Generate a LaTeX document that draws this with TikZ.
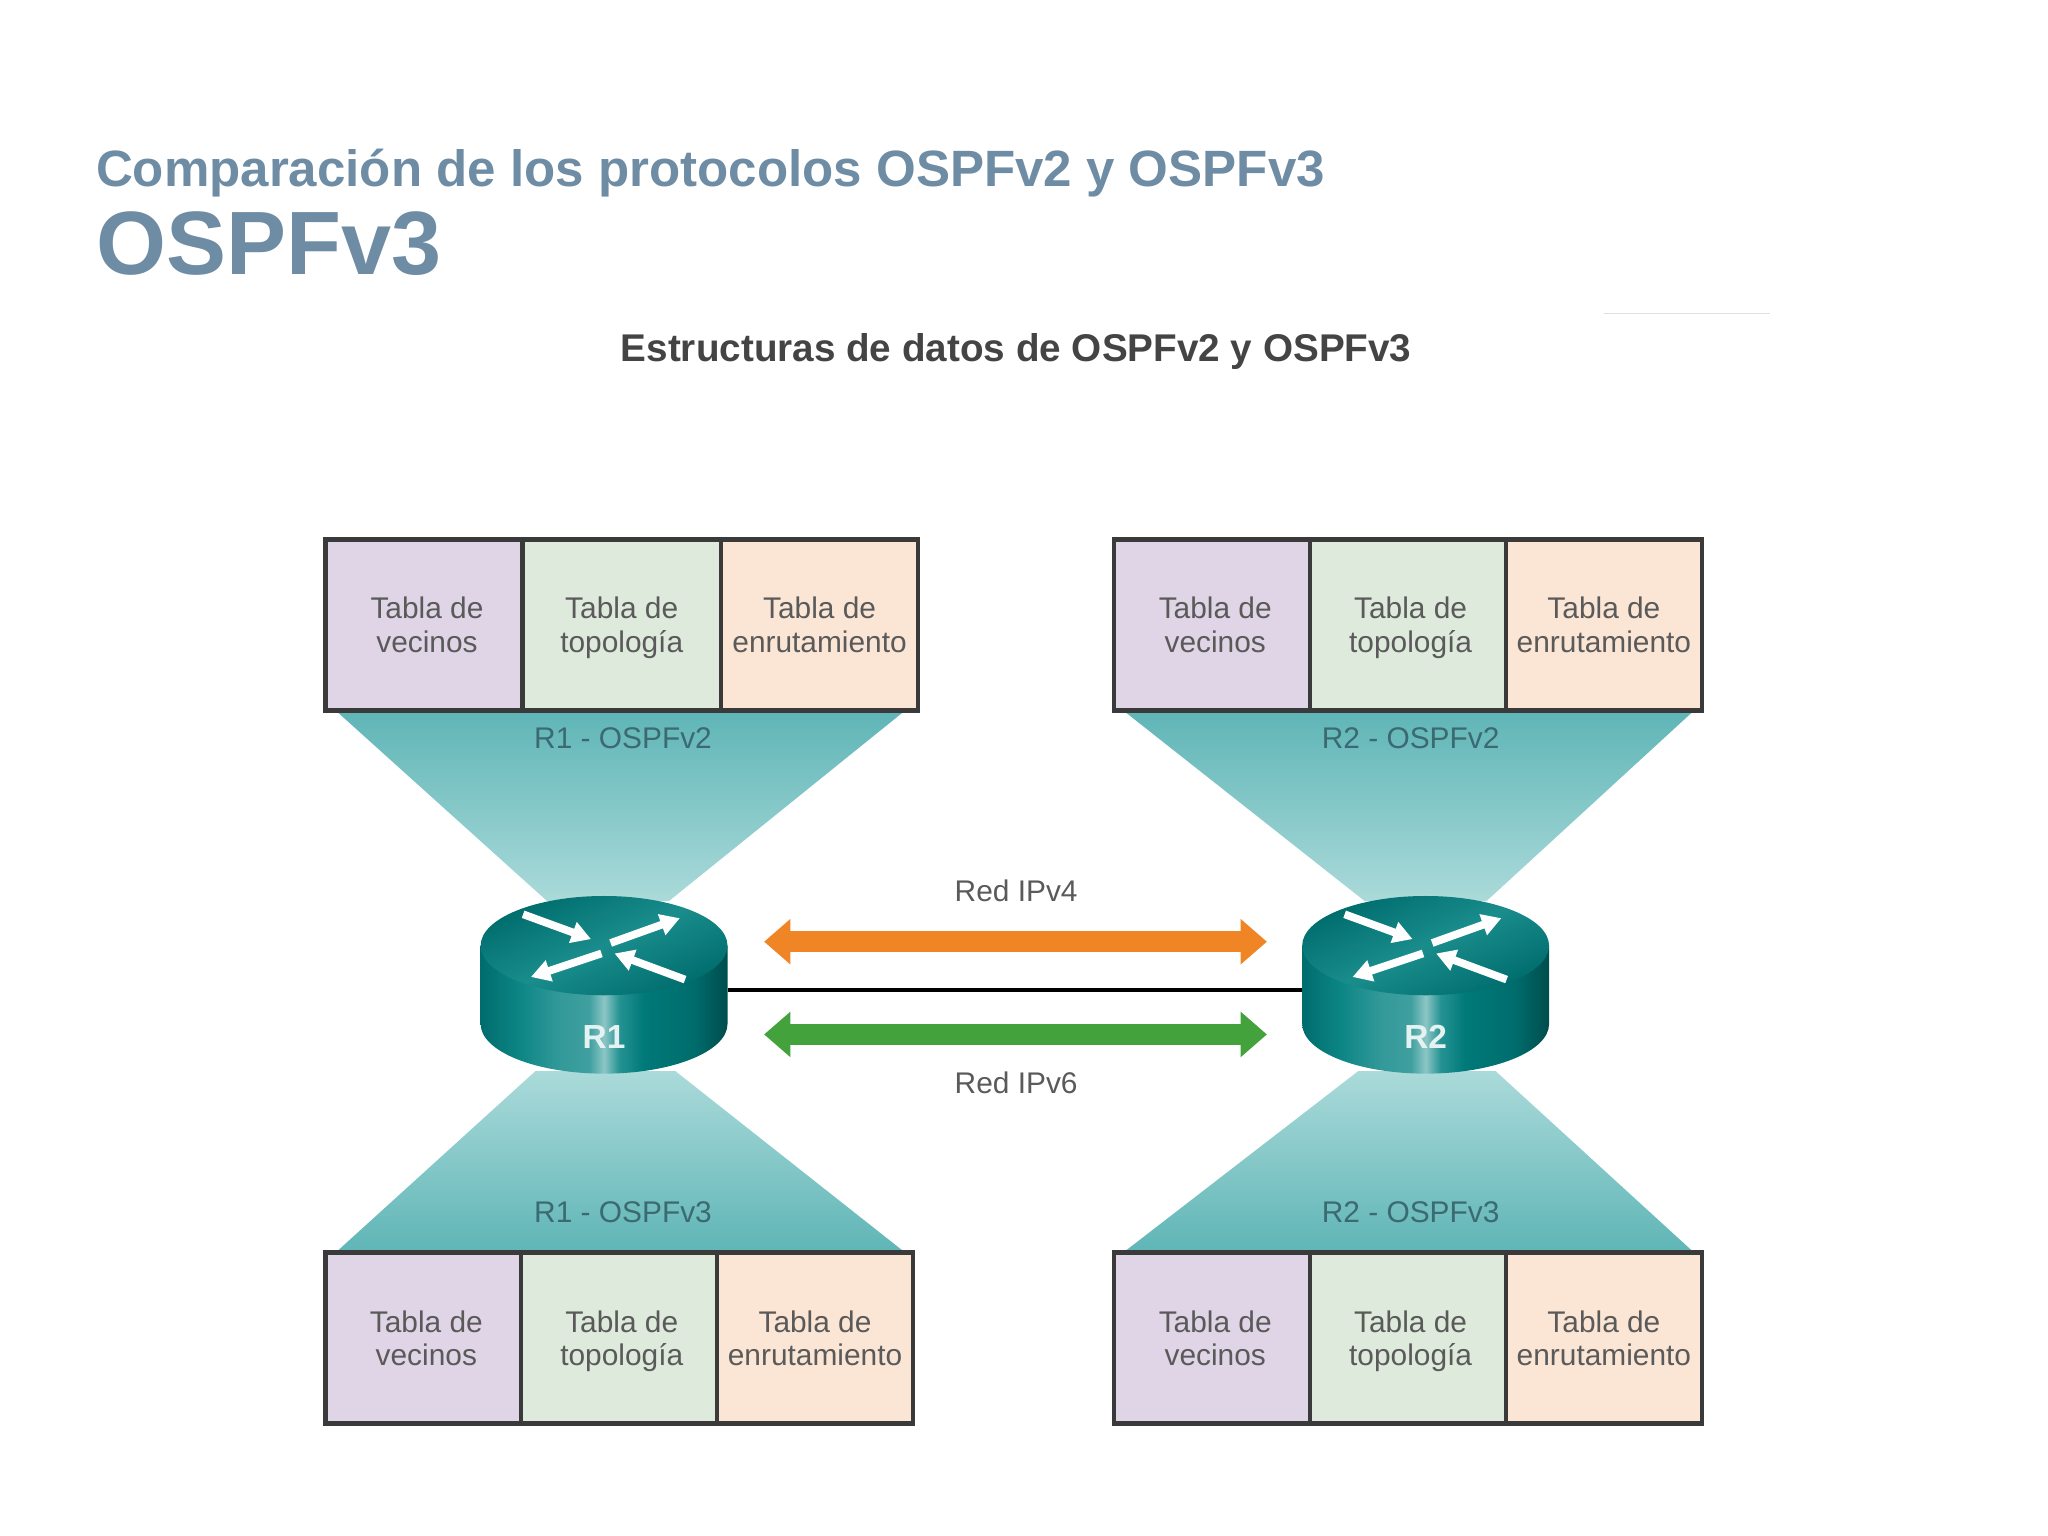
\documentclass[tikz,border=0pt]{standalone}
\usepackage{fontspec}
\setmainfont{Liberation Sans}
\usetikzlibrary{arrows.meta, positioning}

\definecolor{titleblue}{HTML}{6F8CA5}
\definecolor{headgray}{HTML}{444444}
\definecolor{textgray}{HTML}{5A5A5A}
\definecolor{labelteal}{HTML}{3B6A70}
\definecolor{frameblack}{HTML}{3A3A3A}
\definecolor{cellvec}{HTML}{E0D5E6}
\definecolor{celltop}{HTML}{DEEADB}
\definecolor{cellenr}{HTML}{FBE6D5}
\definecolor{funnelhi}{HTML}{5FB5B6}
\definecolor{funnello}{HTML}{ABDADA}
\definecolor{arroworange}{HTML}{F08526}
\definecolor{arrowgreen}{HTML}{44A23C}

\pgfdeclarehorizontalshading{routerbody}{100bp}{
  color(0bp)=(teal!60!black);
  color(25bp)=(teal!85!black);
  color(33bp)=(teal!95!white);
  color(41bp)=(teal!80!white);
  color(47bp)=(teal!75!white);
  color(50bp)=(teal!45!white);
  color(53bp)=(teal!85!white);
  color(58bp)=(teal!95!black);
  color(68bp)=(teal!85!black);
  color(75bp)=(teal!60!black);
  color(100bp)=(teal!60!black)}

\def\unit{0.13061mm}

\tikzset{
  tablecell/.style={draw=frameblack, line width=1.3pt, outer sep=0pt, inner sep=0pt,
    minimum height=131*\unit, text=textgray, align=center, text depth=0pt,
    font=\fontsize{8.5}{9.6}\selectfont},
  tablelabel/.style={text=labelteal, font=\fontsize{8.5}{10}\selectfont, inner sep=0pt},
  netlabel/.style={text=textgray, font=\fontsize{8.5}{10}\selectfont, inner sep=0pt},
  netarrow/.style={line width=6pt, {Triangle[length=7.5pt,width=12.5pt]}-{Triangle[length=7.5pt,width=12.5pt]}},
  flowarrow/.style={white, line width=2.2pt, -{Triangle[length=5.5pt,width=6pt]}},
}

\begin{document}
\begin{tikzpicture}[x=\unit,y=-\unit]
\useasboundingbox (0,0) rectangle (1568,1176);

\node[anchor=base west, inner sep=0pt, text=titleblue, font=\fontsize{14.53}{16}\bfseries\selectfont] (maintitle) at (73,143) {Comparación de los protocolos OSPFv2 y OSPFv3};
\node[anchor=base west, inner sep=0pt, text=titleblue, font=\fontsize{25.6}{28}\bfseries\selectfont] (subtitle) at (73,210) {OSPFv3};
\node[inner sep=0pt, text=headgray, font=\fontsize{11}{13}\bfseries\selectfont] (heading) at (778,269) {Estructuras de datos de OSPFv2 y OSPFv3};
\draw[gray!25, line width=0.5pt] (1228,240) -- (1355,240);

% funnels
\foreach \fl/\fr/\wl/\wr/\ye/\yw in {257/693/419/512/544/690, 860/1297/1045/1138/544/690,
                                      257/693/410/517/959/820, 860/1297/1040/1145/959/820} {
  \pgfmathsetmacro{\ylo}{\ye<\yw ? 1 : 0}
  \ifnum\ylo=1
    \shade[top color=funnelhi, bottom color=funnello] (\fl,\ye) -- (\fr,\ye) -- (\wr,\yw) -- (\wl,\yw) -- cycle;
  \else
    \shade[top color=funnello, bottom color=funnelhi] (\fl,\ye) -- (\fr,\ye) -- (\wr,\yw) -- (\wl,\yw) -- cycle;
  \fi
}

% tables
\foreach \tname/\tx/\ty/\cwa/\cwb/\cwc/\tp in {r1a/249/413/151/152/151/0pt, r2a/853/413/150/150/150/1.5pt,
                                               r1b/249/959/150/150/150/1.5pt, r2b/853/959/150/150/150/1.5pt} {
  \node[tablecell, fill=cellvec, minimum width=\cwa*\unit, anchor=north west] (\tname-vec) at (\tx,\ty) {\hspace*{1.8pt}Tabla de\\\hspace*{1.8pt}vecinos};
  \node[tablecell, fill=celltop, minimum width=\cwb*\unit, right=0pt of \tname-vec] (\tname-top) {\hspace*{\tp}Tabla de\\\hspace*{\tp}topología};
  \node[tablecell, fill=cellenr, minimum width=\cwc*\unit, right=0pt of \tname-top] (\tname-enr) {Tabla de\\enrutamiento};
}
\node[tablelabel] (r1a-lab) at (477,565) {R1 - OSPFv2};
\node[tablelabel] (r2a-lab) at (1080,565) {R2 - OSPFv2};
\node[tablelabel] (r1b-lab) at (477,928) {R1 - OSPFv3};
\node[tablelabel] (r2b-lab) at (1080,928) {R2 - OSPFv3};

% routers
\foreach \rname/\cx in {R1/462.5, R2/1091.5} {
  \begin{scope}[shift={(\cx,724)}]
    \shade[shading=routerbody] (-94.5,0) -- (-94.5,60) arc[start angle=180, end angle=0, x radius=94.5, y radius=38] -- (94.5,0) -- cycle;
    \shade[top color=teal!85!black, bottom color=teal!85!black, middle color=teal!90!white, shading angle=25] (0,0) ellipse[x radius=94.5, y radius=38];
    \draw[flowarrow] (-62,-24) -- (-10,-5);
    \draw[flowarrow] (5,-2) -- (58,-21);
    \draw[flowarrow] (-2,6) -- (-56,24);
    \draw[flowarrow] (62,26) -- (8,6);
    \node[inner sep=0pt, text=white!90!teal, font=\fontsize{9.5}{11}\bfseries\selectfont] (\rname) at (0,70) {\rname};
    \coordinate (\rname-port) at (0,34);
  \end{scope}
}
\coordinate (R1-out) at ([xshift=94.5*\unit]R1-port);
\coordinate (R2-out) at ([xshift=-94.5*\unit]R2-port);
\draw[black, line width=1.4pt] (R1-out) -- (R2-out);

% networks
\node[netlabel] (ipv4) at (778,682) {Red IPv4};
\node[netlabel] (ipv6) at (778,829) {Red IPv6};
\coordinate (v4l) at (585,721);
\coordinate (v4r) at (970,721);
\coordinate (v6l) at (585,792);
\coordinate (v6r) at (970,792);
\draw[netarrow, arroworange] (v4l) -- (v4r);
\draw[netarrow, arrowgreen] (v6l) -- (v6r);
\end{tikzpicture}
\end{document}
